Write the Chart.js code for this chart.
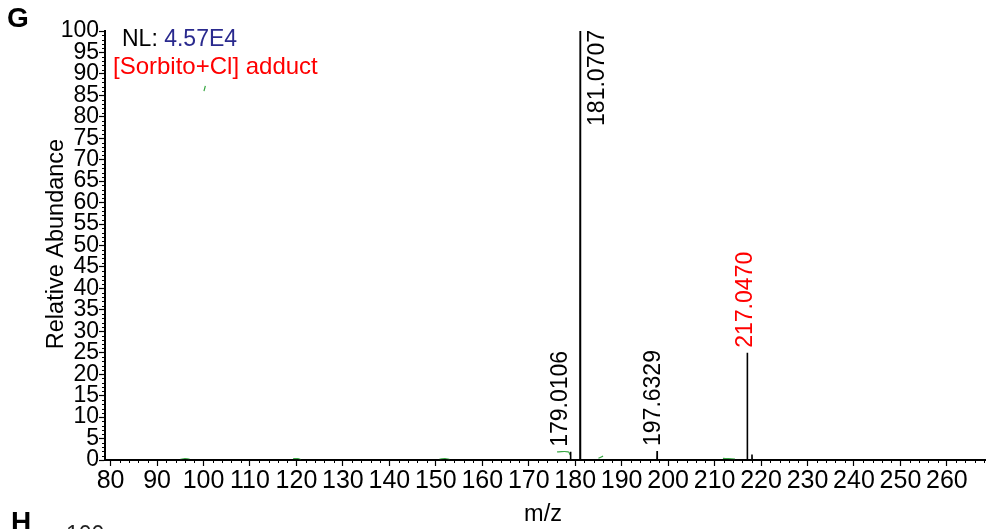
<!DOCTYPE html>
<html>
<head>
<meta charset="utf-8">
<script src="https://cdn.jsdelivr.net/npm/chart.js@4.4.1/dist/chart.umd.min.js"></script>
<style>
  html, body { margin: 0; padding: 0; background: #fff; }
  #wrap { width: 987px; height: 529px; position: relative; }
</style>
</head>
<body>
<div id="wrap"><canvas id="c" width="987" height="529"></canvas></div>
<script>
// Profile trace of the spectrum: m/z and relative abundance (%)
const mz        = [78.8, 179.00, 179.0106, 179.03, 180.99, 181.03, 181.0707, 181.11, 181.15,
                   197.60, 197.6329, 197.66, 216.99, 217.02, 217.0470, 217.07, 217.10,
                   218.02, 218.05, 218.08, 268.5];
const abundance = [0, 0, 1.9, 0, 0, 34, 100, 12, 0,
                   0, 2.1, 0, 0, 11, 25, 4, 0,
                   0, 1.3, 0, 0];

// Faint secondary (green) trace fragments; null breaks the line
const greenMz = [95.0, 96.0, 97.0, 97.1,
                 119.3, 120.3, 121.0, 121.1,
                 150.8, 152.0, 153.0, 153.1,
                 176.1, 178.5, 178.9, 179.0,
                 185.0, 186.0, 186.1,
                 211.8, 213.0, 214.4, 214.5,
                 100.1, 100.4];
const greenAb = [0.15, 0.35, 0.2, null,
                 0.35, 0.3, 0.05, null,
                 0.2, 0.35, 0.1, null,
                 1.9, 1.9, 1.2, null,
                 0.4, 0.9, null,
                 0.4, 0.3, 0.2, null,
                 86.0, 87.2];

// Labelled peaks (m/z of apex)
const peakMz    = [179.0106, 181.0707, 197.6329, 217.0470];
const peakColor = ['#000000', '#000000', '#000000', '#ff0000'];

// Axis tick values
const xTicks = [80, 90, 100, 110, 120, 130, 140, 150, 160, 170, 180, 190, 200, 210, 220, 230, 240, 250, 260];
const yTicks = [0, 5, 10, 15, 20, 25, 30, 35, 40, 45, 50, 55, 60, 65, 70, 75, 80, 85, 90, 95, 100];

const FONT = "'Liberation Sans', Arial, sans-serif";

const decor = {
  id: 'spectrumDecor',
  afterDraw(chart) {
    const ctx = chart.ctx;
    const xs = chart.scales.x, ys = chart.scales.y;
    const area = chart.chartArea;
    ctx.save();

    // minor tick marks
    ctx.strokeStyle = '#000';
    ctx.lineWidth = 1;
    ctx.beginPath();
    for (let v = 80; v <= 268; v += 2) {
      if (v % 10 === 0) continue;
      const px = Math.round(xs.getPixelForValue(v)) + 0.5;
      ctx.moveTo(px, area.bottom);
      ctx.lineTo(px, area.bottom + 3);
    }
    for (let v = 0; v <= 100; v += 1) {
      if (v % 5 === 0) continue;
      const py = Math.round(ys.getPixelForValue(v)) + 0.5;
      ctx.moveTo(area.left, py);
      ctx.lineTo(area.left - 3, py);
    }
    ctx.stroke();

    // axis titles
    ctx.fillStyle = '#000';
    ctx.font = '23.5px ' + FONT;
    ctx.textAlign = 'center';
    ctx.textBaseline = 'middle';
    ctx.fillText('m/z', 543, 515);
    ctx.save();
    ctx.translate(57, 244);
    ctx.rotate(-Math.PI / 2);
    ctx.fillText('Relative Abundance', 0, 0);
    ctx.restore();

    // panel letters
    ctx.font = 'bold 28px ' + FONT;
    ctx.textAlign = 'left';
    ctx.textBaseline = 'alphabetic';
    ctx.fillText('G', 7, 27);
    ctx.fillText('H', 11, 531);
    ctx.font = '23px ' + FONT;
    ctx.fillStyle = '#222';
    ctx.fillText('100', 66, 542);

    // header annotations
    ctx.fillStyle = '#000';
    ctx.font = '23px ' + FONT;
    ctx.fillText('NL: ', 122, 46);
    const w = ctx.measureText('NL: ').width;
    ctx.fillStyle = '#2a2a8e';
    ctx.fillText('4.57E4', 122 + w, 46);
    ctx.fillStyle = '#ff0000';
    ctx.font = '24px ' + FONT;
    ctx.fillText('[Sorbito+Cl] adduct', 113, 74);

    // peak labels, rotated
    ctx.font = '23px ' + FONT;
    const nudge = { '179.0106': -10, '197.6329': -3, '217.0470': -2 };
    peakMz.forEach((m, i) => {
      const idx = mz.indexOf(m);
      const px = xs.getPixelForValue(m);
      const py = ys.getPixelForValue(abundance[idx]);
      const label = m.toFixed(4);
      const tw = ctx.measureText(label).width;
      let ax, ay;
      if (py - tw - 6 < area.top) {
        ax = px + 17;
        ay = area.top + tw - 1;
      } else {
        ax = px + (nudge[label] || 0);
        ay = py - 5;
      }
      ctx.save();
      ctx.translate(ax, ay);
      ctx.rotate(-Math.PI / 2);
      ctx.fillStyle = peakColor[i];
      ctx.textAlign = 'left';
      ctx.textBaseline = 'middle';
      ctx.fillText(label, 0, 0);
      ctx.restore();
    });

    ctx.restore();
  }
};

new Chart(document.getElementById('c'), {
  type: 'scatter',
  data: {
    datasets: [
      {
        data: mz.map((m, i) => ({ x: m, y: abundance[i] })),
        showLine: true,
        borderColor: '#000',
        borderWidth: 1.6,
        pointRadius: 0,
        tension: 0
      },
      {
        data: greenMz.map((m, i) => ({ x: m, y: greenAb[i] })),
        showLine: true,
        spanGaps: false,
        borderColor: '#3aa845',
        borderWidth: 1.2,
        pointRadius: 0,
        tension: 0.4
      }
    ]
  },
  options: {
    responsive: false,
    animation: false,
    devicePixelRatio: 1,
    layout: { padding: { top: 31, right: 2, left: 0, bottom: 0 } },
    plugins: { legend: { display: false }, tooltip: { enabled: false } },
    scales: {
      x: {
        type: 'linear',
        min: 78.8,
        max: 268.2,
        afterBuildTicks: s => { s.ticks = xTicks.map(v => ({ value: v })); },
        afterFit: s => { s.height = 69; },
        grid: { drawOnChartArea: false, drawTicks: true, tickLength: 6, tickColor: '#000', tickWidth: 1.2 },
        border: { display: true, color: '#000', width: 2 },
        ticks: { color: '#000', font: { family: FONT, size: 25 }, padding: 0, maxRotation: 0, autoSkip: false }
      },
      y: {
        min: 0,
        max: 100,
        afterBuildTicks: s => { s.ticks = yTicks.map(v => ({ value: v })); },
        afterFit: s => { s.width = 105; },
        grid: { drawOnChartArea: false, drawTicks: true, tickLength: 6, tickColor: '#000', tickWidth: 1.2 },
        border: { display: true, color: '#000', width: 2 },
        ticks: { color: '#000', font: { family: FONT, size: 23 }, padding: 0, autoSkip: false }
      }
    }
  },
  plugins: [decor]
});
</script>
</body>
</html>
